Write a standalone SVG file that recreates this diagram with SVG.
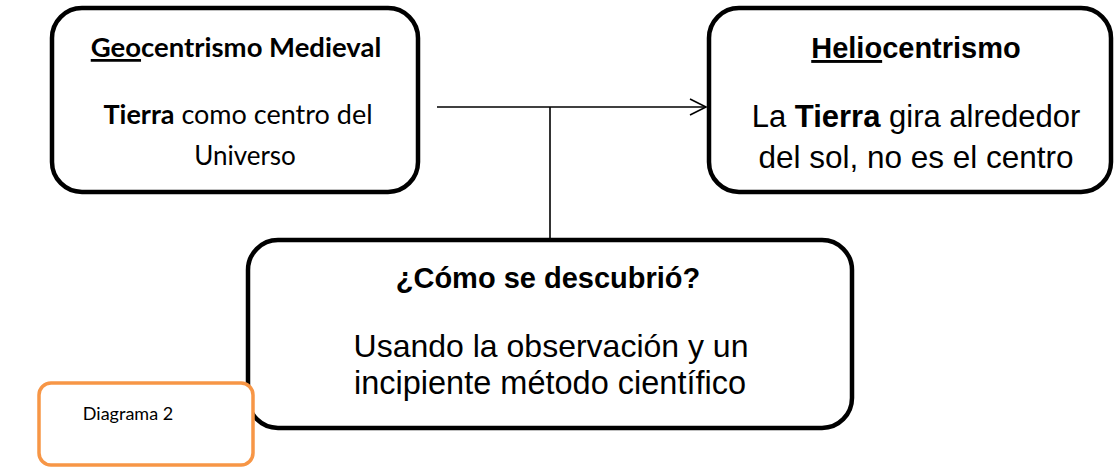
<svg xmlns="http://www.w3.org/2000/svg" width="1114" height="467" viewBox="0 0 1114 467">
<style>
.box{fill:#fff;stroke:#000;stroke-width:4.5}
.c{font-family:Lato,"Liberation Sans",sans-serif;fill:#000;text-anchor:middle}
.g{font-family:"Liberation Sans",Arial,sans-serif;fill:#000;text-anchor:middle}
.b{font-weight:bold}
.u{text-decoration:underline}
.conn{stroke:#000;stroke-width:1.6;fill:none}
</style>
<defs>
<marker id="arr" viewBox="0 0 20 20" refX="18" refY="10" markerWidth="20" markerHeight="20" markerUnits="userSpaceOnUse" orient="auto">
<path d="M2 2 L18 10 L2 18" fill="none" stroke="#000" stroke-width="1.6"/>
</marker>
</defs>
<g id="connectors">
<line class="conn" x1="437" y1="107" x2="706" y2="107" marker-end="url(#arr)"/>
<line class="conn" x1="550" y1="107" x2="550" y2="240"/>
</g>
<g id="geocentrismo">
<rect class="box" x="52" y="8" width="366" height="184" rx="30"/>
<text class="c b" x="236" y="57" font-size="27.5"><tspan class="u">Geo</tspan>centrismo Medieval</text>
<text class="c" x="238" y="124" font-size="27"><tspan class="b">Tierra</tspan> como centro del</text>
<text class="c" x="245" y="165" font-size="26">Universo</text>
</g>
<g id="heliocentrismo">
<rect class="box" x="709" y="8" width="402" height="184" rx="30"/>
<text class="g b" x="916" y="58" font-size="29"><tspan class="u">Helio</tspan>centrismo</text>
<text class="g" x="916" y="127" font-size="31">La <tspan class="b">Tierra</tspan> gira alrededor</text>
<text class="g" x="916" y="168" font-size="31.5">del sol, no es el centro</text>
</g>
<g id="descubrio">
<rect class="box" x="248" y="240" width="604" height="188" rx="30"/>
<text class="g b" x="548" y="288" font-size="29">¿Cómo se descubrió?</text>
<text class="g" x="551" y="357" font-size="32">Usando la observación y un</text>
<text class="g" x="550" y="394" font-size="32.5">incipiente método científico</text>
</g>
<g id="diagrama2">
<rect x="39" y="383" width="214" height="82" rx="12" fill="#fff" stroke="#F79646" stroke-width="3.5"/>
<text class="c" x="128" y="420" font-size="18">Diagrama 2</text>
</g>
</svg>
